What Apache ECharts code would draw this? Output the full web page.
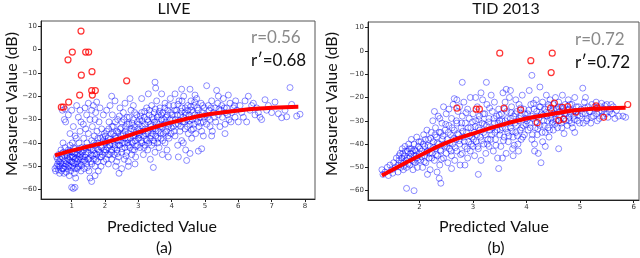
<!DOCTYPE html>
<html><head><meta charset="utf-8">
<script src="https://cdn.jsdelivr.net/npm/echarts@6/dist/echarts.min.js"></script>
<style>html,body{margin:0;padding:0;background:#fff}#c{width:640px;height:258px}</style>
</head><body><div id="c"></div><script>
// ---------- LIVE (a) ----------
const liveBlue = [
[0.5,-51],[0.52,-52],[0.55,-50],[0.58,-49],[0.6,-51.5],[0.62,-48],[0.65,-47],[0.66,-50],[0.7,-52],[0.7,-46],[0.72,-49],[0.75,-44],[0.76,-51],[0.78,-47.5],[0.8,-50],[0.8,-42],[0.6,-45],[0.68,-43],[0.74,-40],[0.78,-30],[0.72,-26],[0.8,-25.5],[0.82,-31],[0.55,-46],[0.64,-53],[0.77,-53],
[0.85,-48],[0.86,-45],[0.88,-51],[0.9,-43],[0.9,-47],[0.92,-50],[0.95,-41],[0.95,-46],[0.97,-52],[1.0,-44],[1.0,-48],[1.02,-40],[1.03,-50],[1.05,-46],[1.06,-42],[1.08,-53],[1.1,-47],[1.1,-44],[1.12,-49],[1.14,-38],[1.15,-45],[1.17,-51],[1.2,-43],[1.2,-47],[1.22,-40],[1.24,-49],[1.25,-35],[1.26,-45],[1.28,-52],[1.3,-42],[1.3,-47],[0.9,-28],[1.0,-26],[1.05,-33],[1.15,-24],[1.2,-29],[1.25,-26],[1.28,-31],[0.95,-36],[1.1,-37],[1.0,-59],[1.05,-59.5],[1.1,-59],[1.12,-55],[0.93,-54],[1.18,-50.5],
[1.32,-44],[1.35,-48],[1.36,-38],[1.38,-51],[1.4,-42],[1.4,-46],[1.42,-34],[1.45,-49],[1.46,-40],[1.48,-44],[1.5,-47],[1.5,-36],[1.52,-52],[1.55,-42],[1.55,-30],[1.58,-45],[1.6,-39],[1.6,-49],[1.62,-33],[1.65,-43],[1.66,-47],[1.68,-37],[1.7,-50],[1.7,-41],[1.72,-27],[1.75,-45],[1.76,-35],[1.78,-48],[1.8,-40],[1.8,-43],[1.82,-31],[1.85,-46],[1.86,-38],[1.88,-50],[1.9,-42],[1.9,-34],[1.92,-45],[1.95,-39],[1.96,-48],[1.98,-36],[1.4,-25],[1.45,-28],[1.5,-23],[1.6,-26],[1.65,-24],[1.75,-22.5],[1.85,-25],[1.95,-28],[1.55,-55],[1.6,-56.5],[1.7,-54],[1.8,-52],[1.35,-32],[1.7,-30],
[2.0,-44],[2.02,-40],[2.04,-47],[2.05,-35],[2.08,-42],[2.1,-38],[2.1,-49],[2.12,-31],[2.14,-45],[2.15,-41],[2.18,-36],[2.2,-43],[2.2,-47],[2.22,-28],[2.24,-39],[2.25,-33],[2.28,-45],[2.3,-41],[2.3,-37],[2.32,-50],[2.35,-35],[2.36,-43],[2.38,-30],[2.4,-39],[2.4,-46],[2.42,-53],[2.44,-41],[2.45,-34],[2.48,-37],[2.5,-44],[2.5,-31],[2.52,-40],[2.55,-27],[2.55,-36],[2.58,-47],[2.6,-42],[2.6,-38],[2.62,-33],[2.65,-44],[2.66,-29],[2.68,-40],[2.7,-36],[2.7,-48],[2.72,-32],[2.75,-42],[2.76,-38],[2.78,-26],[2.8,-45],[2.8,-34],[2.82,-40],[2.85,-30],[2.86,-37],[2.88,-43],[2.9,-33],[2.9,-39],[2.92,-46],[2.95,-28],[2.96,-36],[2.98,-41],[3.0,-34],[2.15,-24],[2.3,-22],[2.45,-25],[2.6,-23],[2.75,-21],[2.85,-24],[2.2,-20],[2.05,-26],[2.5,-51],[2.7,-50],[2.35,-48],[2.9,-49],
[3.02,-38],[3.04,-30],[3.05,-42],[3.08,-35],[3.1,-27],[3.1,-40],[3.12,-33],[3.15,-45],[3.16,-37],[3.18,-29],[3.2,-41],[3.2,-32],[3.22,-36],[3.25,-25],[3.26,-39],[3.28,-43],[3.3,-31],[3.3,-35],[3.32,-28],[3.35,-38],[3.36,-47],[3.38,-33],[3.4,-24],[3.4,-41],[3.42,-36],[3.45,-30],[3.46,-39],[3.48,-27],[3.5,-34],[3.5,-44],[3.52,-37],[3.55,-22],[3.55,-31],[3.58,-40],[3.6,-28],[3.6,-35],[3.62,-42],[3.65,-25],[3.66,-33],[3.68,-38],[3.7,-30],[3.72,-45],[3.74,-27],[3.75,-36],[3.78,-32],[3.8,-40],[3.8,-23],[3.82,-29],[3.85,-35],[3.86,-43],[3.88,-26],[3.9,-33],[3.92,-38],[3.95,-30],[3.96,-21],[3.98,-36],[3.5,-14],[3.52,-16.5],[3.3,-19],[3.45,-50.5],[3.1,-21],[3.7,-19],[3.9,-46],
[4.02,-28],[4.05,-33],[4.06,-24],[4.1,-37],[4.12,-30],[4.15,-26],[4.18,-41],[4.2,-32],[4.22,-22],[4.25,-35],[4.26,-28],[4.3,-39],[4.3,-25],[4.33,-31],[4.36,-20],[4.4,-34],[4.4,-27],[4.42,-43],[4.45,-30],[4.48,-24],[4.5,-36],[4.52,-28],[4.55,-32],[4.58,-22],[4.6,-26],[4.6,-38],[4.62,-30],[4.65,-34],[4.68,-24],[4.7,-28],[4.72,-36],[4.75,-21],[4.78,-31],[4.8,-26],[4.82,-33],[4.85,-29],[4.88,-23],[4.9,-35],[4.92,-27],[4.95,-31],[4.98,-25],[4.3,-17],[4.55,-17],[4.2,-46],[4.45,-47.5],[4.55,-44.5],[4.8,-43.5],[4.9,-42.5],[4.95,-37],[4.1,-19],[4.7,-19.5],[4.35,-40],
[5.02,-28],[5.05,-15.5],[5.05,-32],[5.1,-24],[5.12,-26],[5.15,-30],[5.2,-22],[5.22,-35],[5.25,-27],[5.3,-25],[5.32,-31],[5.35,-17.5],[5.38,-23],[5.4,-28],[5.45,-33],[5.48,-26],[5.5,-24],[5.52,-29],[5.55,-21],[5.6,-32],[5.62,-27],[5.65,-25],[5.7,-19.5],[5.72,-30],[5.75,-23],[5.8,-27],[5.85,-25],[5.9,-29],[5.92,-22],[5.95,-26],[5.6,-36],[5.2,-37],[5.4,-20],
[6.05,-24],[6.1,-27],[6.15,-29],[6.2,-22],[6.25,-31],[6.3,-20],[6.35,-26],[6.4,-24],[6.5,-28],[6.55,-25],[6.6,-27],[6.65,-29],[6.7,-30],[6.8,-21.5],[6.85,-26],[6.9,-24],[7.0,-27],[7.1,-22.5],[7.2,-27.5],[7.3,-29.2],[7.4,-26],[7.45,-28.8],[7.55,-16.3],[7.6,-23.5],[7.75,-28.5],[7.85,-27.7],[6.0,-31],[6.45,-23],
[0.58,-47],[0.62,-50],[0.67,-48.5],[0.71,-44.5],[0.73,-51],[0.79,-45.5],[0.83,-49],[0.84,-52.5],[0.87,-46.5],[0.89,-44],[0.91,-49.5],[0.94,-47.5],[0.96,-43.5],[0.98,-50.5],[1.01,-46],[1.04,-48.5],[1.07,-44.5],[1.09,-51],[1.11,-42.5],[1.13,-46.5],[1.16,-48],[1.19,-44.5],[1.21,-50],[1.23,-46],[1.27,-43.5],[1.29,-49.5],[1.33,-46],[1.37,-43],[1.39,-47.5],[1.43,-45],[1.47,-50.5],[1.49,-42],[1.53,-46.5],[1.57,-48],[1.59,-43],[1.63,-45.5],[1.67,-40],[1.69,-44.5],[1.73,-47],[1.77,-42.5],[1.79,-38],[1.83,-44],[1.87,-41.5],[1.89,-46],[1.93,-37.5],[1.97,-43],
[2.01,-37],[2.03,-43],[2.06,-39.5],[2.09,-45],[2.11,-34],[2.13,-41],[2.16,-38.5],[2.19,-44],[2.21,-33],[2.23,-40.5],[2.26,-36],[2.29,-42],[2.31,-31],[2.33,-38],[2.37,-44.5],[2.39,-35.5],[2.41,-41],[2.43,-28.5],[2.47,-39],[2.49,-33.5],[2.51,-42.5],[2.53,-36.5],[2.57,-30],[2.59,-40],[2.61,-35],[2.63,-45.5],[2.67,-32],[2.69,-38.5],[2.71,-41],[2.73,-29],[2.77,-35],[2.79,-39.5],[2.81,-31.5],[2.83,-43],[2.87,-34.5],[2.89,-27],[2.91,-37],[2.93,-41.5],[2.97,-31],[2.99,-38],
[3.01,-32],[3.03,-36.5],[3.06,-28.5],[3.09,-39],[3.11,-30.5],[3.13,-35],[3.17,-42],[3.19,-26.5],[3.21,-34],[3.23,-38.5],[3.27,-30],[3.29,-36],[3.31,-40],[3.33,-26],[3.37,-32],[3.39,-37],[3.41,-29],[3.43,-34],[3.47,-40],[3.49,-31],[3.51,-25.5],[3.53,-35],[3.57,-29],[3.59,-38],[3.61,-32],[3.63,-26.5],[3.67,-36],[3.69,-28],[3.71,-33],[3.73,-39],[3.77,-30],[3.79,-25],[3.81,-35.5],[3.83,-31],[3.87,-28],[3.89,-37],[3.91,-24],[3.93,-32],[3.97,-27],[3.99,-33.5],
[4.03,-30],[4.07,-35],[4.09,-26],[4.13,-32],[4.17,-28],[4.19,-23.5],[4.23,-30.5],[4.27,-33],[4.29,-26.5],[4.31,-22],[4.35,-29],[4.39,-31],[4.41,-25],[4.43,-28],[4.47,-33],[4.49,-26],[4.53,-30.5],[4.57,-24.5],[4.59,-34.5],[4.63,-27],[4.67,-32],[4.69,-22.5],[4.73,-29.5],[4.77,-25],[4.83,-28],[4.87,-31.5],[4.93,-24],[4.97,-29],
[5.08,-29],[5.18,-25],[5.28,-29],[5.42,-25.5],[5.58,-25],[5.68,-28],[5.78,-31],[5.88,-24],[5.15,-33]
];
const liveRed = [[1.28,7.9],[1.02,-1.1],[0.89,-4.4],[1.42,-1.1],[1.51,-1.1],[1.29,-11],[1.61,-9.5],[2.65,-13.4],[1.6,-17.6],[1.71,-17.6],[1.62,-19.5],[1.24,-19.5],[0.91,-22.5],[0.69,-24.7],[0.75,-24.7]];
const liveFitX = [0.5,1,1.5,2,2.5,3,3.5,4,4.5,5,5.5,6,6.5,7,7.8];
const liveFitY = [-45.3,-43.3,-41.5,-39.8,-37.8,-35.5,-33.2,-31.2,-29.5,-28,-27,-26.1,-25.4,-24.9,-24.5];
const liveXTicks = [1,2,3,4,5,6,7,8];
const liveYTicks = [-60,-50,-40,-30,-20,-10,0,10];

// ---------- TID 2013 (b) ----------
const tidBlue = [
[1.3,-51],[1.32,-53],[1.36,-52],[1.4,-50],[1.42,-53.5],[1.45,-49],[1.48,-51],[1.5,-52.5],[1.52,-48],[1.55,-50],[1.57,-46],[1.6,-49],[1.6,-52],[1.62,-47],[1.64,-44],[1.65,-50],[1.67,-46],[1.68,-42],[1.7,-48],[1.7,-51],
[1.72,-45],[1.73,-41],[1.75,-47],[1.76,-50],[1.78,-43],[1.8,-46],[1.8,-40],[1.82,-49],[1.84,-44],[1.85,-42],[1.86,-47],[1.88,-51],[1.9,-45],[1.9,-40],[1.92,-48],[1.93,-43],[1.95,-46],[1.96,-50],[1.98,-41],[2.0,-44],[1.76,-59],[1.9,-60],[1.85,-38],[1.95,-37],
[2.02,-47],[2.03,-39],[2.05,-43],[2.06,-50],[2.08,-36],[2.1,-45],[2.1,-41],[2.12,-48],[2.14,-34],[2.15,-43],[2.17,-38],[2.18,-46],[2.2,-41],[2.2,-51],[2.22,-35],[2.24,-44],[2.25,-30],[2.26,-39],[2.28,-47],[2.3,-42],[2.3,-33],[2.32,-37],[2.34,-45],[2.35,-28],[2.36,-40],[2.38,-49],[2.4,-35],[2.4,-43],[2.42,-31],[2.43,-38],[2.45,-24],[2.45,-46],[2.47,-41],[2.48,-34],[2.5,-27],[2.5,-44],[2.37,-54.7],[2.4,-56.8],[2.33,-52],[2.15,-53],[2.28,-26],[2.38,-29],
[2.52,-38],[2.53,-48],[2.55,-32],[2.56,-42],[2.58,-36],[2.6,-45],[2.6,-29],[2.62,-40],[2.63,-23],[2.65,-34],[2.66,-47],[2.68,-38],[2.7,-31],[2.7,-43],[2.72,-26],[2.73,-36],[2.75,-40],[2.76,-49],[2.78,-33],[2.8,-28],[2.8,-44],[2.82,-37],[2.83,-22],[2.85,-41],[2.86,-31],[2.88,-35],[2.9,-46],[2.9,-25],[2.92,-39],[2.93,-29],[2.95,-43],[2.96,-33],[2.98,-37],[3.0,-27],[3.0,-41],[2.8,-13.5],[2.7,-21],[2.6,-50.5],[2.85,-49],[2.95,-20],[2.75,-24],[2.65,-20.5],[2.55,-25],
[3.02,-35],[3.03,-45],[3.05,-30],[3.06,-39],[3.08,-24],[3.1,-42],[3.1,-33],[3.12,-28],[3.14,-37],[3.15,-47],[3.17,-31],[3.18,-21],[3.2,-40],[3.2,-35],[3.22,-27],[3.24,-44],[3.25,-32],[3.26,-23],[3.28,-38],[3.3,-29],[3.3,-41],[3.32,-34],[3.34,-19],[3.35,-36],[3.36,-26],[3.38,-43],[3.4,-31],[3.4,-22],[3.42,-38],[3.44,-28],[3.45,-34],[3.46,-46],[3.48,-25],[3.5,-36],[3.5,-30],[3.25,-13.5],[3.1,-53],[3.48,-50.5],[3.15,-18],[3.05,-20],
[3.52,-41],[3.53,-27],[3.55,-33],[3.56,-18],[3.58,-37],[3.6,-22],[3.6,-30],[3.62,-44],[3.63,-26],[3.65,-35],[3.66,-39],[3.68,-20],[3.7,-29],[3.7,-33],[3.72,-24],[3.74,-42],[3.75,-37],[3.76,-28],[3.78,-31],[3.8,-21],[3.8,-35],[3.82,-26],[3.84,-40],[3.85,-30],[3.86,-23],[3.88,-34],[3.9,-28],[3.9,-38],[3.92,-19],[3.94,-32],[3.95,-25],[3.96,-36],[3.98,-29],[3.62,-16.5],[3.75,-45],[3.85,-43],[3.55,-46],[3.7,-17],
[4.02,-27],[4.03,-34],[4.05,-17],[4.06,-31],[4.08,-23],[4.1,-38],[4.1,-10.5],[4.12,-29],[4.14,-25],[4.15,-43],[4.16,-33],[4.18,-21],[4.2,-36],[4.2,-28],[4.22,-44],[4.24,-24],[4.25,-15.5],[4.25,-32],[4.27,-48],[4.28,-27],[4.3,-39],[4.3,-22],[4.32,-30],[4.34,-25],[4.35,-35],[4.37,-19],[4.38,-28],[4.4,-33],[4.4,-24],[4.42,-37],[4.44,-21],[4.45,-29],[4.47,-26],[4.48,-31],[4.5,-23],[4.5,-34],[4.15,-40],[4.35,-41],
[4.52,-27],[4.54,-20],[4.55,-30],[4.57,-25],[4.58,-33],[4.6,-22],[4.6,-42],[4.62,-28],[4.64,-24],[4.65,-31],[4.67,-19],[4.68,-26],[4.7,-35.5],[4.7,-29],[4.72,-23],[4.74,-27],[4.76,-32],[4.78,-21],[4.8,-25],[4.8,-30],[4.82,-27],[4.85,-23],[4.86,-33],[4.88,-28],[4.9,-35],[4.9,-20],[4.92,-26],[4.95,-30],[4.97,-24],[5.0,-28],
[5.02,-25],[5.05,-16],[5.06,-31],[5.08,-22],[5.1,-27],[5.1,-20],[5.13,-29],[5.15,-24],[5.18,-26],[5.2,-31],[5.22,-23],[5.25,-28],[5.28,-25],[5.3,-22],[5.32,-30],[5.35,-26],[5.38,-24],[5.4,-22.5],[5.42,-28],[5.45,-25],[5.48,-27],[5.5,-23],
[5.55,-26],[5.6,-27],[5.62,-24],[5.68,-25.5],[5.72,-28],[5.8,-28],[5.85,-28.5],[5.58,-23],[5.65,-29],
[1.62,-45],[1.66,-48],[1.69,-44],[1.71,-49.5],[1.74,-43],[1.77,-46],[1.79,-48.5],[1.81,-42],[1.83,-45.5],[1.87,-43],[1.89,-47.5],[1.91,-42.5],[1.94,-45],[1.97,-47],[1.99,-39],
[2.01,-42],[2.04,-45.5],[2.07,-40],[2.09,-47.5],[2.11,-38],[2.13,-43.5],[2.16,-40.5],[2.19,-44],[2.21,-37.5],[2.23,-46],[2.27,-41.5],[2.29,-36],[2.31,-44.5],[2.33,-39.5],[2.37,-35],[2.39,-42.5],[2.41,-46.5],[2.44,-36.5],[2.46,-40],[2.49,-31.5],
[2.51,-41],[2.54,-35],[2.57,-39.5],[2.59,-43],[2.61,-33],[2.64,-37.5],[2.67,-41.5],[2.69,-30],[2.71,-35.5],[2.74,-38.5],[2.77,-44.5],[2.79,-31],[2.81,-34.5],[2.84,-39],[2.87,-26.5],[2.89,-42],[2.91,-33],[2.94,-36.5],[2.97,-40],[2.99,-30.5],
[3.01,-38],[3.04,-32.5],[3.07,-36],[3.09,-41],[3.11,-29.5],[3.13,-34],[3.16,-38.5],[3.19,-27],[3.21,-31.5],[3.23,-36],[3.27,-40],[3.29,-30.5],[3.31,-24.5],[3.33,-38],[3.37,-33],[3.39,-29],[3.41,-35],[3.43,-40.5],[3.47,-31],[3.49,-27.5],
[3.51,-34],[3.54,-30],[3.57,-38.5],[3.59,-25],[3.61,-33.5],[3.64,-29],[3.67,-36.5],[3.69,-31],[3.71,-26.5],[3.73,-34.5],[3.77,-40.5],[3.79,-27],[3.81,-32],[3.83,-36.5],[3.87,-29],[3.89,-24.5],[3.91,-33],[3.93,-37],[3.97,-27],[3.99,-31.5],
[4.01,-30],[4.04,-25.5],[4.07,-33],[4.09,-28],[4.11,-36],[4.13,-22.5],[4.17,-30.5],[4.19,-26],[4.21,-33.5],[4.23,-29],[4.26,-24],[4.29,-35],[4.31,-27.5],[4.33,-32],[4.36,-26.5],[4.39,-30],[4.41,-23],[4.43,-34],[4.46,-27.5],[4.49,-30.5],
[4.51,-25],[4.53,-31.5],[4.56,-27],[4.59,-24],[4.61,-30],[4.63,-26],[4.66,-33],[4.69,-24.5],[4.71,-27],[4.73,-30],[4.77,-25.5],[4.79,-28.5],[4.81,-23],[4.84,-31],[4.87,-26],[4.89,-29.5],[4.93,-24],[4.96,-27.5],[4.99,-31],
[5.04,-27],[5.09,-24.5],[5.12,-30],[5.17,-26],[5.21,-28.5],[5.27,-24],[5.31,-27],[5.36,-29],[5.41,-26],[5.46,-23.5],[5.52,-28.5],[5.57,-25]
];
const tidRed = [[3.5,-1],[4.08,-4.2],[4.48,-1],[4.46,-9.3],[2.7,-24.6],[3.06,-25],[3.12,-25],[3.58,-24.6],[3.89,-25.3],[4.2,-30.8],[4.45,-24.6],[4.52,-22.4],[4.6,-29.8],[4.69,-29.3],[4.67,-24.2],[4.77,-23.9],[4.92,-26.3],[5.3,-23.6],[5.32,-24.6],[5.44,-28.5],[5.89,-23]];
const tidFitX = [1.3,1.5,2,2.5,3,3.5,4,4.5,5,5.5,5.85];
const tidFitY = [-53.5,-51,-45,-39.5,-35.5,-32,-29,-27,-25.3,-24.6,-24.4];
const tidXTicks = [2,3,4,5,6];
const tidYTicks = [-60,-50,-40,-30,-20,-10,0,10];

const titles = ['LIVE','TID 2013'];
const rLabels = ['r=0.56','r=0.72'];
const rPrimeLabels = ['r\u2032=0.68','r\u2032=0.72'];
const subLabels = ['(a)','(b)'];
const xName = 'Predicted Value';
const yName = 'Measured Value (dB)';

const chart = echarts.init(document.getElementById('c'), null, {renderer:'canvas'});
const TXT = 'Lato, "Open Sans", sans-serif';
const minus = v => String(v).replace('-', '\u2212');
function ax(gi, min, max, ticks){
  return {gridIndex:gi, type:'value', min:min, max:max, splitLine:{show:false},
    axisLine:{onZero:false, lineStyle:{color:'#222', width:1}},
    axisTick:{customValues:ticks, length:3, lineStyle:{color:'#222'}},
    axisLabel:{customValues:ticks, fontSize:7, color:'#333', margin:4, fontFamily:'DejaVu Sans', formatter:minus}};
}
const blueStyle = {color:'rgba(0,0,0,0)', borderColor:'rgba(0,0,255,0.62)', borderWidth:0.9};
const redStyle = {color:'rgba(0,0,0,0)', borderColor:'#f00', borderWidth:1.2};
function zip(a,b){return a.map((v,i)=>[v,b[i]]);}

const texts = [];
const tcx = [174, 506];
const ycx = [12, 332];
const xcx = [162, 494];
const scx = [164, 496];
const rx = [251, 575];
for (let i=0;i<2;i++){
  texts.push({type:'text', x:tcx[i], y:9, style:{text:titles[i], font:'16px '+TXT, fill:'#111', textAlign:'center', textVerticalAlign:'middle'}});
  texts.push({type:'text', x:ycx[i], y:104, rotation:Math.PI/2, style:{text:yName, font:'16px '+TXT, fill:'#111', textAlign:'center', textVerticalAlign:'middle'}});
  texts.push({type:'text', x:xcx[i], y:227, style:{text:xName, font:'16px '+TXT, fill:'#111', textAlign:'center', textVerticalAlign:'middle'}});
  texts.push({type:'text', x:scx[i], y:248, style:{text:subLabels[i], font:'16px '+TXT, fill:'#111', textAlign:'center', textVerticalAlign:'middle'}});
  texts.push({type:'text', x:rx[i], y:38+i*2, style:{text:rLabels[i], font:'17px '+TXT, fill:'#8a8a8a', textAlign:'left', textVerticalAlign:'middle'}});
  texts.push({type:'text', x:rx[i], y:61+i*2, style:{text:rPrimeLabels[i], font:'17px '+TXT, fill:'#111', textAlign:'left', textVerticalAlign:'middle'}});
}

chart.setOption({
  animation:false,
  backgroundColor:'#fff',
  grid:[
    {left:41, top:21, width:274, height:178, show:true, borderColor:'#555', borderWidth:1, backgroundColor:'transparent'},
    {left:368, top:22, width:271, height:178, show:true, borderColor:'#555', borderWidth:1, backgroundColor:'transparent'}
  ],
  xAxis:[ax(0,0.08,8.3,liveXTicks), ax(1,1.04,6.1,tidXTicks)],
  yAxis:[ax(0,-64,12.2,liveYTicks), ax(1,-64,12.4,tidYTicks)],
  series:[
    {type:'scatter', xAxisIndex:0, yAxisIndex:0, data:liveBlue, symbol:'circle', symbolSize:6, itemStyle:blueStyle, z:2, large:false},
    {type:'line', xAxisIndex:0, yAxisIndex:0, data:zip(liveFitX, liveFitY), smooth:true, showSymbol:false, symbol:'none', lineStyle:{color:'#f00', width:4}, z:3},
    {type:'scatter', xAxisIndex:0, yAxisIndex:0, data:liveRed, symbol:'circle', symbolSize:6, itemStyle:redStyle, z:4},
    {type:'scatter', xAxisIndex:1, yAxisIndex:1, data:tidBlue, symbol:'circle', symbolSize:6, itemStyle:blueStyle, z:2, large:false},
    {type:'line', xAxisIndex:1, yAxisIndex:1, data:zip(tidFitX, tidFitY), smooth:true, showSymbol:false, symbol:'none', lineStyle:{color:'#f00', width:4}, z:3},
    {type:'scatter', xAxisIndex:1, yAxisIndex:1, data:tidRed, symbol:'circle', symbolSize:6, itemStyle:redStyle, z:4}
  ],
  graphic:texts
});
</script></body></html>
